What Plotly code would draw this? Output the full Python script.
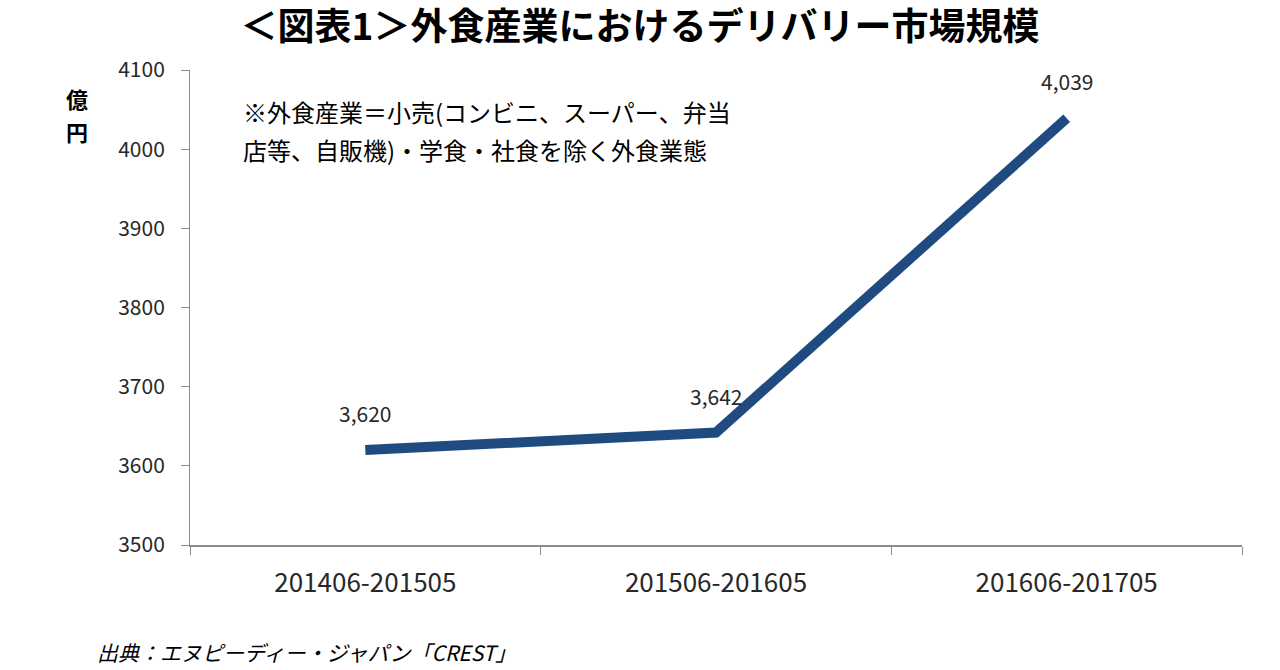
import plotly.graph_objects as go

# 期間と市場規模（億円）
periods = ['201406-201505', '201506-201605', '201606-201705']
market_size = [3620, 3642, 4039]
value_labels = ['3,620', '3,642', '4,039']

y_ticks = [3500, 3600, 3700, 3800, 3900, 4000, 4100]

title_text = '＜図表1＞外食産業におけるデリバリー市場規模'
unit_chars = ['億', '円']
note_lines = ['※外食産業＝小売(コンビニ、スーパー、弁当', '店等、自販機)・学食・社食を除く外食業態']
source_text = '出典：エヌピーディー・ジャパン「CREST」'

FONT = 'Noto Sans CJK JP'
LINE_COLOR = 'rgb(31, 75, 128)'
TEXT_COLOR = 'rgb(40, 40, 40)'
AXIS_COLOR = 'rgb(140, 140, 140)'

fig = go.Figure()
fig.add_trace(go.Scatter(
    x=periods,
    y=market_size,
    mode='lines',
    line=dict(color=LINE_COLOR, width=10),
    showlegend=False,
    hoverinfo='skip',
))

# データラベル
for period, value, label in zip(periods, market_size, value_labels):
    fig.add_annotation(
        x=period, y=value,
        text=label,
        showarrow=False,
        yshift=37,
        xanchor='center', yanchor='middle',
        font=dict(family=FONT, size=21, color=TEXT_COLOR),
    )

fig.update_layout(
    width=1280,
    height=670,
    margin=dict(l=190, r=38, t=70, b=125),
    paper_bgcolor='white',
    plot_bgcolor='white',
    font=dict(family=FONT, color=TEXT_COLOR),
    title=dict(
        text='<b>' + title_text + '</b>',
        x=0.5, xanchor='center',
        y=1 - 27 / 670, yanchor='middle',
        font=dict(family=FONT, size=37, color='black'),
    ),
    xaxis=dict(
        type='category',
        range=[-0.5, 2.5],
        showline=True,
        linecolor=AXIS_COLOR,
        linewidth=2,
        ticks='outside',
        tickson='boundaries',
        ticklen=8,
        tickcolor=AXIS_COLOR,
        ticklabelstandoff=14,
        showgrid=False,
        zeroline=False,
        tickfont=dict(family=FONT, size=26, color=TEXT_COLOR),
    ),
    yaxis=dict(
        range=[3500, 4100],
        tickvals=y_ticks,
        showline=True,
        linecolor=AXIS_COLOR,
        linewidth=1,
        ticks='outside',
        ticklen=8,
        tickcolor=AXIS_COLOR,
        ticklabelstandoff=12,
        showgrid=False,
        zeroline=False,
        tickfont=dict(family=FONT, size=21, color=TEXT_COLOR),
    ),
)

# 単位
for i, ch in enumerate(unit_chars):
    fig.add_annotation(
        text='<b>' + ch + '</b>',
        xref='paper', yref='paper',
        x=-0.107, y=(545 - (98 + 33 * i)) / 475,
        xanchor='center', yanchor='middle',
        showarrow=False,
        font=dict(family=FONT, size=22, color='black'),
    )

# 注記
for i, line in enumerate(note_lines):
    fig.add_annotation(
        text=line,
        xref='paper', yref='paper',
        x=(241 - 190) / 1052, y=(545 - (111 + 38 * i)) / 475,
        xanchor='left', yanchor='middle',
        showarrow=False,
        align='left',
        font=dict(family=FONT, size=24, color='black'),
    )

# 出典
fig.add_annotation(
    text='<i>' + source_text + '</i>',
    xref='paper', yref='paper',
    x=(95 - 190) / 1052, y=(545 - 652) / 475,
    xanchor='left', yanchor='middle',
    showarrow=False,
    align='left',
    font=dict(family=FONT, size=21, color='black'),
)

fig.write_html(
    'out.html',
    config={'displayModeBar': False},
    post_script="document.body.style.margin='0';document.body.style.overflow='hidden';",
)
